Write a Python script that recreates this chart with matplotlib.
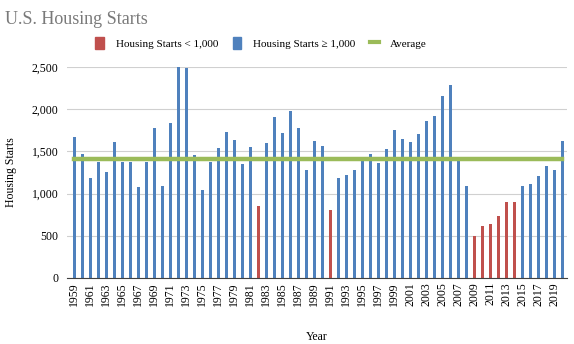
import matplotlib

matplotlib.use("Agg")
import matplotlib.pyplot as plt
from matplotlib.lines import Line2D
from matplotlib.patches import Patch

YEARS = list(range(1959, 2021))
STARTS = [1671, 1473, 1189, 1370, 1256, 1611, 1370, 1370, 1082, 1370,
          1777, 1090, 1836, 2500, 2488, 1457, 1043, 1370, 1536, 1734,
          1639, 1355, 1552, 853, 1600, 1908, 1718, 1979, 1777, 1280,
          1623, 1560, 802, 1189, 1220, 1280, 1402, 1469, 1359, 1528,
          1753, 1647, 1611, 1706, 1864, 1919, 2156, 2291, 1426, 1094,
          502, 620, 644, 739, 904, 904, 1094, 1118, 1212, 1331,
          1284, 1627]
AVERAGE = 1406
RED, BLUE, GREEN = "#c0504d", "#4f81bd", "#9bbb59"

plt.rcParams["font.family"] = ["Liberation Serif", "DejaVu Serif"]

fig = plt.figure(figsize=(5.74, 3.44), dpi=100)
ax = fig.add_axes([0.1167, 0.1919, 0.871, 0.6134])

cols = [RED if v < 1000 else BLUE for v in STARTS]
ax.bar(YEARS, STARTS, width=0.36, color=cols, zorder=2)
ax.plot([YEARS[0], YEARS[-1]], [AVERAGE, AVERAGE], color=GREEN, lw=3.2, zorder=3)

ax.set_xlim(1958.1, 2020.6)
ax.set_ylim(0, 2500)
ax.set_yticks(range(0, 2501, 500))
ax.set_yticklabels([f"{v:,}" for v in range(0, 2501, 500)], fontsize=8.5)
ax.set_xticks(YEARS[::2])
ax.set_xticklabels([str(y) for y in YEARS[::2]], rotation=90, fontsize=8.5)
ax.tick_params(axis="y", length=0, pad=6)
ax.tick_params(axis="x", length=0, pad=3)
ax.grid(axis="y", color="#d0d0d0", lw=0.8, zorder=0)
for s in ("top", "right", "left"):
    ax.spines[s].set_visible(False)
ax.spines["bottom"].set_color("#404040")
ax.spines["bottom"].set_linewidth(0.8)

ax.set_ylabel("Housing Starts", fontsize=8.5, labelpad=11)
ax.set_xlabel("Year", fontsize=8.5, labelpad=18)

fig.text(0.009, 0.967, "U.S. Housing Starts", fontsize=13, color="#7a7a7a",
         ha="left", va="top")
handles = [Patch(color=RED, label="Housing Starts < 1,000"),
           Patch(color=BLUE, label="Housing Starts \u2265 1,000"),
           Line2D([], [], color=GREEN, lw=3, label="Average")]
fig.legend(handles=handles, loc="center", bbox_to_anchor=(0.455, 0.875), ncol=3,
           frameon=False, fontsize=8, handlelength=0.8, handleheight=1.2,
           columnspacing=1.3, handletextpad=1.05)

fig.savefig("out.png", dpi=100)
